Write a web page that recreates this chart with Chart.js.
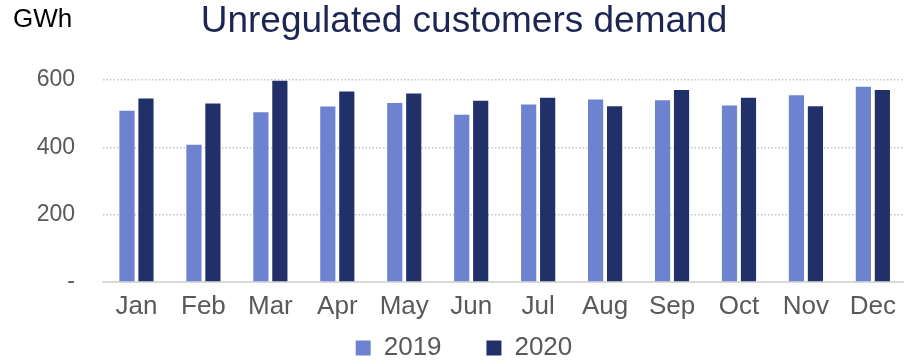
<!DOCTYPE html>
<html><head><meta charset="utf-8">
<script src="https://cdn.jsdelivr.net/npm/chart.js@4.4.1/dist/chart.umd.min.js"></script>
<style>html,body{margin:0;padding:0;overflow:hidden;background:#fff;width:904px;height:364px}canvas{display:block}</style>
</head><body>
<canvas id="c" width="908" height="364"></canvas>
<script>
const months = ['Jan','Feb','Mar','Apr','May','Jun','Jul','Aug','Sep','Oct','Nov','Dec'];
const series2019 = [509,408,504,521,532,497,527,542,540,524,555,580];
const series2020 = [545,530,598,566,560,538,547,522,570,547,522,570];
const seriesNames = ['2019','2020'];
const yMax = 600;
const yStep = 200;
const zeroLabel = '-';
const titleText = 'Unregulated customers demand';
const unitText = 'GWh';

Chart.defaults.font.family = "'Liberation Sans', Arial, sans-serif";

const unitPlugin = {
  id: 'unit',
  afterDraw(chart) {
    const ctx = chart.ctx;
    ctx.save();
    ctx.font = "26px 'Liberation Sans', Arial, sans-serif";
    ctx.fillStyle = '#000000';
    ctx.textBaseline = 'middle';
    ctx.textAlign = 'left';
    ctx.fillText(unitText, 13, 20);
    ctx.restore();
  }
};

new Chart(document.getElementById('c'), {
  type: 'bar',
  data: {
    labels: months,
    datasets: [
      { label: seriesNames[0], data: series2019, backgroundColor: '#6E83D0', categoryPercentage: 0.567, barPercentage: 0.8 },
      { label: seriesNames[1], data: series2020, backgroundColor: '#22306A', categoryPercentage: 0.567, barPercentage: 0.8 }
    ]
  },
  plugins: [unitPlugin],
  options: {
    responsive: false,
    animation: false,
    devicePixelRatio: 1,
    layout: { padding: { left: 20, right: 0, top: 0, bottom: -7 } },
    plugins: {
      title: {
        display: true,
        text: titleText,
        color: '#1C2554',
        font: { size: 37, weight: 'normal', lineHeight: 1 },
        padding: { top: 3.5, bottom: 39.5 }
      },
      legend: {
        position: 'bottom',
        labels: {
          boxWidth: 15, boxHeight: 15, padding: 16,
          color: '#595959',
          font: { size: 26 },
          generateLabels(chart) {
            const items = Chart.defaults.plugins.legend.labels.generateLabels(chart);
            items.forEach((it, i) => {
              it.lineWidth = 0;
              if (i < items.length - 1) it.text = it.text + '    ';
            });
            return items;
          }
        }
      },
      tooltip: { enabled: false }
    },
    scales: {
      x: {
        grid: { display: false, drawTicks: false },
        border: { display: true, color: '#D9D9D9', width: 2 },
        ticks: { color: '#595959', font: { size: 26, lineHeight: 1 }, padding: 12 },
        afterFit(s) { s.height = 37; }
      },
      y: {
        min: 0, max: yMax,
        ticks: {
          stepSize: yStep, padding: 28, color: '#595959',
          font: { size: 23 },
          callback: v => v === 0 ? zeroLabel : String(v)
        },
        grid: {
          drawTicks: false,
          lineWidth: 1.5,
          color: c => (c.tick && c.tick.value === 0) ? 'rgba(0,0,0,0)' : '#C6C6C6'
        },
        border: { display: false, dash: [1.5, 2] },
        afterFit(s) { s.width = 83; }
      }
    }
  }
});
</script>
</body></html>
